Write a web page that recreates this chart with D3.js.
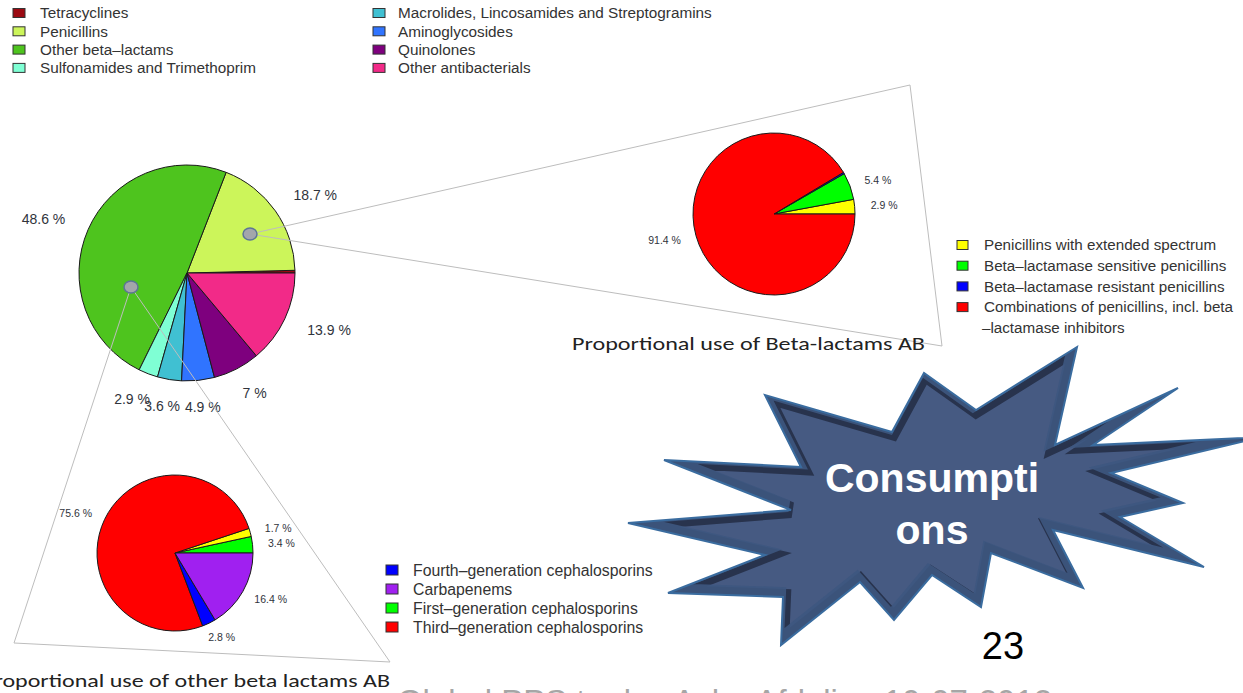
<!DOCTYPE html>
<html>
<head>
<meta charset="utf-8">
<script src="https://cdn.jsdelivr.net/npm/d3@7"></script>
<style>
  html, body { margin: 0; padding: 0; background: #fff; overflow: hidden; }
  svg { display: block; font-family: "Liberation Sans", Arial, sans-serif; }
</style>
</head>
<body>
<svg width="1243" height="693"></svg>
<script>
// main pie: share of antibacterial use (%)
var mainCats = ["Tetracyclines", "Penicillins", "Other beta\u2013lactams", "Sulfonamides and Trimethoprim",
                "Macrolides, Lincosamides and Streptogramins", "Aminoglycosides", "Quinolones", "Other antibacterials"];
var mainVals = [0.4, 18.7, 48.6, 2.9, 3.6, 4.9, 7, 13.9];
var mainColors = ["#9B0A12", "#CCF55A", "#4EC41E", "#7FFFD4", "#40C0D2", "#3074FF", "#7E007E", "#F22A88"];

// penicillins breakdown
var penCats = ["Penicillins with extended spectrum", "Beta\u2013lactamase sensitive penicillins",
               "Beta\u2013lactamase resistant penicillins", "Combinations of penicillins, incl. beta"];
var penVals = [2.9, 5.4, 0.3, 91.4];
var penColors = ["#FFFF00", "#00FF00", "#0000FF", "#FF0000"];

// other beta-lactams breakdown (counter-clockwise from 3 o'clock)
var othCats = ["First\u2013generation cephalosporins", "Second\u2013generation cephalosporins",
               "Third\u2013generation cephalosporins", "Fourth\u2013generation cephalosporins", "Carbapenems"];
var othVals = [3.4, 1.7, 75.6, 2.8, 16.4];
var othColors = ["#00FF00", "#FFFF00", "#FF0000", "#0000FF", "#A020F0"];
var othLegend = ["Fourth\u2013generation cephalosporins", "Carbapenems",
                 "First\u2013generation cephalosporins", "Third\u2013generation cephalosporins"];

var svg = d3.select("svg");

// R style pie: counter-clockwise starting at 3 o'clock
var pie = d3.pie().sort(null).value(function(d) { return d.v; })
    .startAngle(Math.PI / 2).endAngle(Math.PI / 2 - 2 * Math.PI);

function drawPie(cats, vals, colors, cx, cy, r, fontSize, lr) {
  var data = cats.map(function(c, i) { return {c: c, v: vals[i], col: colors[i]}; });
  var arcs = pie(data);
  var arc = d3.arc().innerRadius(0).outerRadius(r);
  var g = svg.append("g").attr("transform", "translate(" + cx + "," + cy + ")");
  g.selectAll("path").data(arcs).enter().append("path")
      .attr("d", arc)
      .attr("fill", function(d) { return d.data.col; })
      .attr("stroke", "#1a1a1a")
      .attr("stroke-width", 1);
  g.selectAll("text").data(arcs.filter(function(d) { return d.data.v >= 1; })).enter().append("text")
      .attr("y", function(d) { return -Math.cos((d.startAngle + d.endAngle) / 2) * r * lr; })
      .attr("dy", "0.35em")
      .attr("text-anchor", "middle")
      .attr("font-size", fontSize)
      .attr("fill", "#30343c")
      .text(function(d) { return d.data.v + " %"; })
      .attr("x", function(d) {
        // push outward by half the label width, more on the sides
        var s = Math.sin((d.startAngle + d.endAngle) / 2);
        var w = this.getComputedTextLength();
        return s * r * lr + s * w / 2;
      });
  return g;
}

function drawLegend(items, colors, x, y0, step, textX, fontSize, sq) {
  var g = svg.append("g");
  items.forEach(function(t, i) {
    var y = y0 + i * step;
    g.append("rect").attr("x", x).attr("y", y - sq[1] / 2).attr("width", sq[0]).attr("height", sq[1])
        .attr("fill", colors[i]).attr("stroke", "#333").attr("stroke-width", 1);
    g.append("text").attr("x", textX).attr("y", y).attr("dy", "0.35em")
        .attr("font-size", fontSize).attr("fill", "#333").text(t);
  });
  return g;
}

// ---- zoom wedges ----
var wedgeUp = [[250, 234], [910, 85], [942, 346], [250, 234]];
var wedgeDown = [[131, 287], [14, 643], [390, 662], [131, 287]];
var line = d3.line();

// ---- pies ----
drawPie(mainCats, mainVals, mainColors, 187, 273, 108, 14, 1.25);

svg.append("path").attr("d", line(wedgeUp)).attr("fill", "none").attr("stroke", "#bdbdbd").attr("stroke-width", 1);
svg.append("path").attr("d", line(wedgeDown)).attr("fill", "none").attr("stroke", "#bdbdbd").attr("stroke-width", 1);

svg.append("ellipse").attr("cx", 250).attr("cy", 234).attr("rx", 7).attr("ry", 6)
    .attr("fill", "#a3a6ab").attr("stroke", "#5d7596").attr("stroke-width", 1.5);
svg.append("ellipse").attr("cx", 131).attr("cy", 287).attr("rx", 7).attr("ry", 6)
    .attr("fill", "#a3a6ab").attr("stroke", "#5d7596").attr("stroke-width", 1.5);

drawPie(penCats, penVals, penColors, 774, 214, 81, 10.5, 1.2);
drawPie(othCats, othVals, othColors, 175, 553, 78, 10.5, 1.2);

// ---- legends ----
drawLegend(mainCats.slice(0, 4), mainColors.slice(0, 4), 13, 13, 18.3, 40, 15.3, [12, 9]);
drawLegend(mainCats.slice(4), mainColors.slice(4), 373, 13, 18.3, 398, 15.3, [12, 9]);
drawLegend(penCats, penColors, 957, 245, 20.7, 984, 15.2, [11, 9]);
svg.append("text").attr("x", 982).attr("y", 328).attr("dy", "0.35em")
    .attr("font-size", 15.2).attr("fill", "#333").text("\u2013lactamase inhibitors");
drawLegend(othLegend, othLegend.map(function(c) { return othColors[othCats.indexOf(c)]; }),
    386, 570, 19, 413, 15.8, [12, 10]);

// ---- captions ----
svg.append("text").attr("x", 572).attr("y", 350).attr("font-size", 19)
    .attr("font-family", "Carlito, 'Open Sans', sans-serif")
    .attr("textLength", 353).attr("lengthAdjust", "spacingAndGlyphs")
    .attr("fill", "#222").text("Proportional use of Beta-lactams AB");
svg.append("text").attr("x", -18).attr("y", 687).attr("font-size", 19)
    .attr("font-family", "Carlito, 'Open Sans', sans-serif")
    .attr("textLength", 408).attr("lengthAdjust", "spacingAndGlyphs")
    .attr("fill", "#222").text("Proportional use of other beta lactams AB");

// ---- starburst ----
var star = [[1077,347],[1055,445],[1178,388],[1093,445],[1262,437],[1111,473],[1183,503],[1120,517],
            [1204,567],[1053,530],[1083,588],[991,553],[981,607],[932,575],[894,620],[860,582],
            [781,645],[783,597],[668,593],[765,555],[628,523],[791,510],[664,460],[801,467],
            [765,395],[892,432],[924,373],[976,410]];
var closedLine = d3.line().curve(d3.curveLinearClosed);
var starD = closedLine(star);
svg.append("clipPath").attr("id", "starClip").append("path").attr("d", starD);
svg.append("path").attr("d", starD).attr("fill", "#465a82");
var bevel = svg.append("g").attr("clip-path", "url(#starClip)");
// darker band on every edge, then a lighter one shifted so upper/left edges look lit
bevel.append("path").attr("d", starD).attr("fill", "none")
    .attr("stroke", "#28334d").attr("stroke-width", 16).attr("stroke-linejoin", "miter");
bevel.append("path").attr("d", starD).attr("fill", "none").attr("transform", "translate(-3,-4)")
    .attr("stroke", "#3d5680").attr("stroke-width", 12).attr("stroke-linejoin", "miter").attr("opacity", 0.9);
bevel.append("path").attr("d", starD).attr("fill", "#465a82").attr("transform", "translate(935,495) scale(0.985) translate(-935,-495)")
    .attr("stroke", "none").attr("opacity", 0);
svg.append("path").attr("d", starD).attr("fill", "none")
    .attr("stroke", "#3a6c9f").attr("stroke-width", 2).attr("stroke-linejoin", "miter");

svg.append("text").attr("x", 932).attr("y", 478).attr("dy", "0.35em").attr("text-anchor", "middle")
    .attr("font-size", 41).attr("font-weight", "bold").attr("fill", "#fff").text("Consumpti");
svg.append("text").attr("x", 932).attr("y", 530).attr("dy", "0.35em").attr("text-anchor", "middle")
    .attr("font-size", 41).attr("font-weight", "bold").attr("fill", "#fff").text("ons");

svg.append("text").attr("x", 1003).attr("y", 659).attr("text-anchor", "middle")
    .attr("font-size", 38).attr("fill", "#000").text("23");

// footer, mostly below the visible area
svg.append("text").attr("x", 397).attr("y", 713).attr("font-size", 33)
    .attr("textLength", 655).attr("lengthAdjust", "spacingAndGlyphs")
    .attr("fill", "#a6a6a6").text("Global PPS to day  Acho  Afdeling  10-07-2012");
</script>
</body>
</html>
